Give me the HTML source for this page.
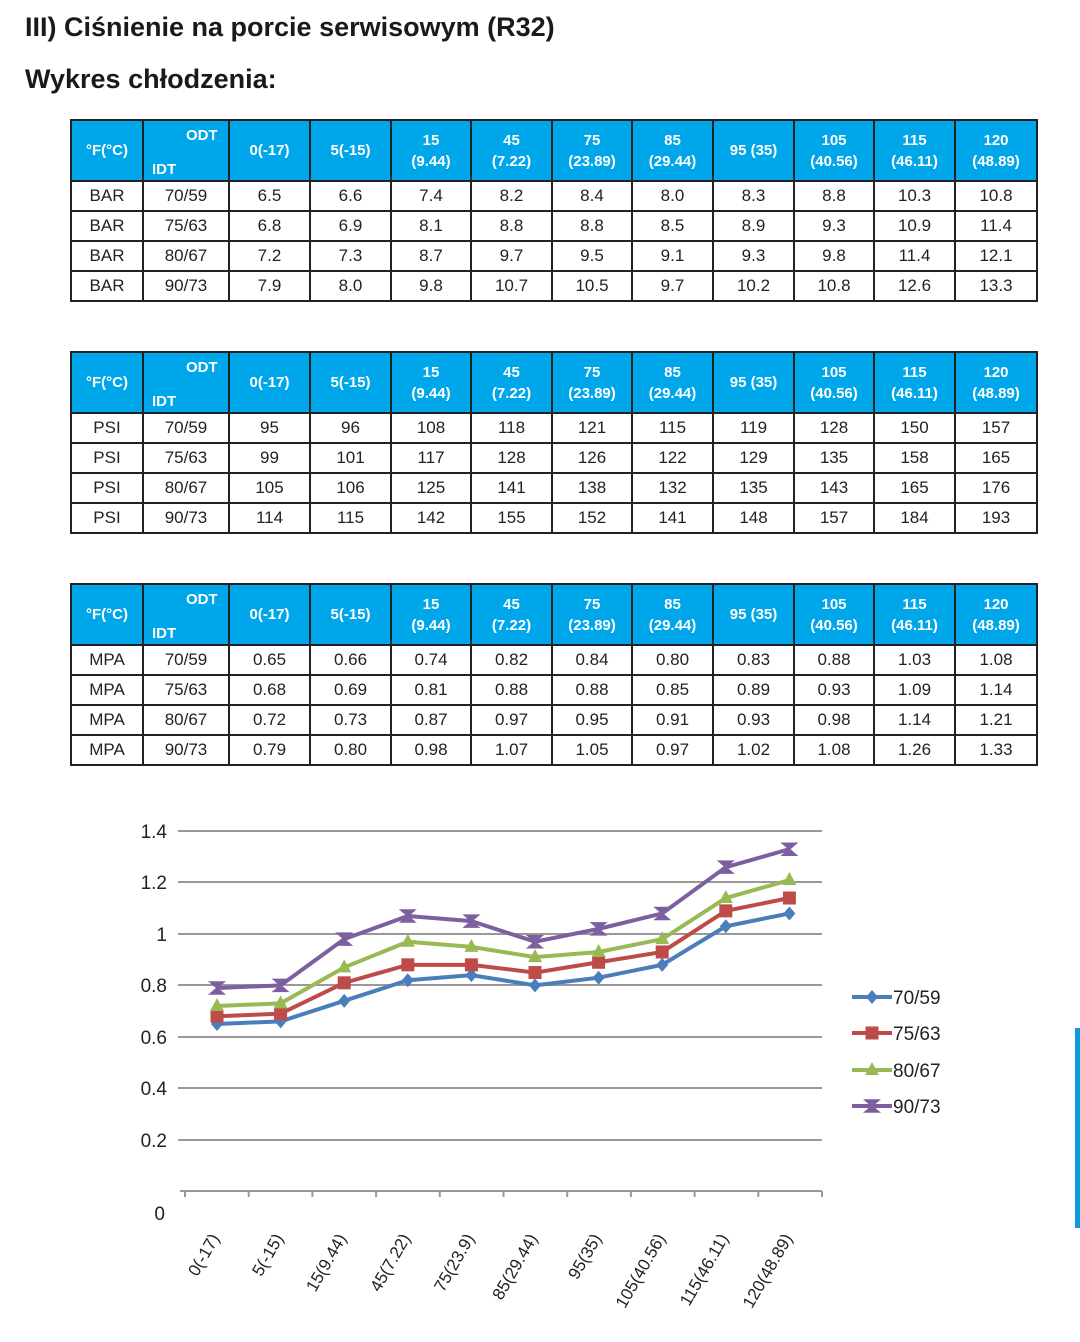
<!DOCTYPE html>
<html><head><meta charset="utf-8"><style>
body{margin:0;width:1080px;height:1342px;background:#fff;position:relative;font-family:"Liberation Sans",sans-serif;overflow:hidden}
.t1{position:absolute;left:25px;top:12px;font-size:27px;font-weight:bold;color:#1a1a1a}
.t2{position:absolute;left:25px;top:64px;font-size:27px;font-weight:bold;color:#1a1a1a}
table{position:absolute;left:70px;border-collapse:collapse;table-layout:fixed;width:966px}
td{border:2px solid #222;text-align:center;font-size:17px;color:#222;height:28px;padding:0}
tr.h td{background:#00a6ea;color:#fff;font-size:15px;font-weight:bold;height:59px;line-height:21px}
.odt{position:relative;height:59px}
.odt span{position:absolute}
#bar{position:absolute;left:1075px;top:1028px;width:5px;height:200px;background:#0a9bdc}
</style></head><body>
<div class="t1">III) Ciśnienie na porcie serwisowym (R32)</div>
<div class="t2">Wykres chłodzenia:</div>

<table style="top:119px">
<colgroup><col style="width:72px"><col style="width:86px"><col style="width:81px"><col style="width:81px"><col style="width:80px"><col style="width:81px"><col style="width:80px"><col style="width:81px"><col style="width:81px"><col style="width:80px"><col style="width:81px"><col style="width:82px"></colgroup>
<tr class="h"><td>°F(°C)</td><td><div class="odt"><span style="left:42px;top:4px">ODT</span><span style="left:8px;top:38px">IDT</span></div></td><td>0(-17)</td><td>5(-15)</td><td>15<br>(9.44)</td><td>45<br>(7.22)</td><td>75<br>(23.89)</td><td>85<br>(29.44)</td><td>95 (35)</td><td>105<br>(40.56)</td><td>115<br>(46.11)</td><td>120<br>(48.89)</td></tr>
<tr><td>BAR</td><td>70/59</td><td>6.5</td><td>6.6</td><td>7.4</td><td>8.2</td><td>8.4</td><td>8.0</td><td>8.3</td><td>8.8</td><td>10.3</td><td>10.8</td></tr>
<tr><td>BAR</td><td>75/63</td><td>6.8</td><td>6.9</td><td>8.1</td><td>8.8</td><td>8.8</td><td>8.5</td><td>8.9</td><td>9.3</td><td>10.9</td><td>11.4</td></tr>
<tr><td>BAR</td><td>80/67</td><td>7.2</td><td>7.3</td><td>8.7</td><td>9.7</td><td>9.5</td><td>9.1</td><td>9.3</td><td>9.8</td><td>11.4</td><td>12.1</td></tr>
<tr><td>BAR</td><td>90/73</td><td>7.9</td><td>8.0</td><td>9.8</td><td>10.7</td><td>10.5</td><td>9.7</td><td>10.2</td><td>10.8</td><td>12.6</td><td>13.3</td></tr>
</table>

<table style="top:351px">
<colgroup><col style="width:72px"><col style="width:86px"><col style="width:81px"><col style="width:81px"><col style="width:80px"><col style="width:81px"><col style="width:80px"><col style="width:81px"><col style="width:81px"><col style="width:80px"><col style="width:81px"><col style="width:82px"></colgroup>
<tr class="h"><td>°F(°C)</td><td><div class="odt"><span style="left:42px;top:4px">ODT</span><span style="left:8px;top:38px">IDT</span></div></td><td>0(-17)</td><td>5(-15)</td><td>15<br>(9.44)</td><td>45<br>(7.22)</td><td>75<br>(23.89)</td><td>85<br>(29.44)</td><td>95 (35)</td><td>105<br>(40.56)</td><td>115<br>(46.11)</td><td>120<br>(48.89)</td></tr>
<tr><td>PSI</td><td>70/59</td><td>95</td><td>96</td><td>108</td><td>118</td><td>121</td><td>115</td><td>119</td><td>128</td><td>150</td><td>157</td></tr>
<tr><td>PSI</td><td>75/63</td><td>99</td><td>101</td><td>117</td><td>128</td><td>126</td><td>122</td><td>129</td><td>135</td><td>158</td><td>165</td></tr>
<tr><td>PSI</td><td>80/67</td><td>105</td><td>106</td><td>125</td><td>141</td><td>138</td><td>132</td><td>135</td><td>143</td><td>165</td><td>176</td></tr>
<tr><td>PSI</td><td>90/73</td><td>114</td><td>115</td><td>142</td><td>155</td><td>152</td><td>141</td><td>148</td><td>157</td><td>184</td><td>193</td></tr>
</table>

<table style="top:583px">
<colgroup><col style="width:72px"><col style="width:86px"><col style="width:81px"><col style="width:81px"><col style="width:80px"><col style="width:81px"><col style="width:80px"><col style="width:81px"><col style="width:81px"><col style="width:80px"><col style="width:81px"><col style="width:82px"></colgroup>
<tr class="h"><td>°F(°C)</td><td><div class="odt"><span style="left:42px;top:4px">ODT</span><span style="left:8px;top:38px">IDT</span></div></td><td>0(-17)</td><td>5(-15)</td><td>15<br>(9.44)</td><td>45<br>(7.22)</td><td>75<br>(23.89)</td><td>85<br>(29.44)</td><td>95 (35)</td><td>105<br>(40.56)</td><td>115<br>(46.11)</td><td>120<br>(48.89)</td></tr>
<tr><td>MPA</td><td>70/59</td><td>0.65</td><td>0.66</td><td>0.74</td><td>0.82</td><td>0.84</td><td>0.80</td><td>0.83</td><td>0.88</td><td>1.03</td><td>1.08</td></tr>
<tr><td>MPA</td><td>75/63</td><td>0.68</td><td>0.69</td><td>0.81</td><td>0.88</td><td>0.88</td><td>0.85</td><td>0.89</td><td>0.93</td><td>1.09</td><td>1.14</td></tr>
<tr><td>MPA</td><td>80/67</td><td>0.72</td><td>0.73</td><td>0.87</td><td>0.97</td><td>0.95</td><td>0.91</td><td>0.93</td><td>0.98</td><td>1.14</td><td>1.21</td></tr>
<tr><td>MPA</td><td>90/73</td><td>0.79</td><td>0.80</td><td>0.98</td><td>1.07</td><td>1.05</td><td>0.97</td><td>1.02</td><td>1.08</td><td>1.26</td><td>1.33</td></tr>
</table>

<svg id="ch" width="1080" height="1342" style="position:absolute;left:0;top:0" font-family="Liberation Sans, sans-serif">
<g stroke="#999" stroke-width="2">
<line x1="178" x2="822" y1="831" y2="831"/><line x1="178" x2="822" y1="882" y2="882"/><line x1="178" x2="822" y1="934" y2="934"/><line x1="178" x2="822" y1="985" y2="985"/><line x1="178" x2="822" y1="1037" y2="1037"/><line x1="178" x2="822" y1="1088" y2="1088"/><line x1="178" x2="822" y1="1140" y2="1140"/>
<line x1="180" x2="822" y1="1191" y2="1191"/>
</g>
<g font-size="19" fill="#222" text-anchor="end">
<text x="167" y="838">1.4</text><text x="167" y="889">1.2</text><text x="167" y="941">1</text><text x="167" y="992">0.8</text><text x="167" y="1044">0.6</text><text x="167" y="1095">0.4</text><text x="167" y="1147">0.2</text><text x="165" y="1220">0</text>
</g>
<g id="ticks" stroke="#999" stroke-width="2"></g>
<g font-size="17" fill="#222" text-anchor="end">
<text transform="translate(220,1238) rotate(-60)">0(-17)</text>
<text transform="translate(284,1238) rotate(-60)">5(-15)</text>
<text transform="translate(347,1238) rotate(-60)">15(9.44)</text>
<text transform="translate(411,1238) rotate(-60)">45(7.22)</text>
<text transform="translate(475,1238) rotate(-60)">75(23.9)</text>
<text transform="translate(538,1238) rotate(-60)">85(29.44)</text>
<text transform="translate(602,1238) rotate(-60)">95(35)</text>
<text transform="translate(666,1238) rotate(-60)">105(40.56)</text>
<text transform="translate(729,1238) rotate(-60)">115(46.11)</text>
<text transform="translate(793,1238) rotate(-60)">120(48.89)</text>
</g>
<g id="series"></g>
<g font-size="19" fill="#222">
<text x="893" y="1004">70/59</text><text x="893" y="1040">75/63</text><text x="893" y="1077">80/67</text><text x="893" y="1113">90/73</text>
</g>
<g id="leg"></g>
</svg>
<div id="bar"></div>
<script>
var D=[[.65,.66,.74,.82,.84,.80,.83,.88,1.03,1.08],[.68,.69,.81,.88,.88,.85,.89,.93,1.09,1.14],[.72,.73,.87,.97,.95,.91,.93,.98,1.14,1.21],[.79,.80,.98,1.07,1.05,.97,1.02,1.08,1.26,1.33]];
var C=["#4a7ebb","#be4b48","#98b954","#7d5fa0"];
function mk(t,x,y,c){
 if(t==0)return '<polygon points="'+x+','+(y-7)+' '+(x+6)+','+y+' '+x+','+(y+7)+' '+(x-6)+','+y+'" fill="'+c+'"/>';
 if(t==1)return '<rect x="'+(x-6.5)+'" y="'+(y-6.5)+'" width="13" height="13" fill="'+c+'"/>';
 if(t==2)return '<polygon points="'+x+','+(y-8)+' '+(x+7)+','+(y+5)+' '+(x-7)+','+(y+5)+'" fill="'+c+'"/>';
 return '<polygon points="'+(x-7)+','+(y-6)+' '+(x+7)+','+(y-6)+' '+x+','+y+' '+(x+7)+','+(y+6)+' '+(x-7)+','+(y+6)+' '+x+','+y+'" fill="'+c+'" stroke="'+c+'" stroke-width="1.5"/>';
}
var s='';
for(var k=0;k<4;k++){var p=[],m='';for(var i=0;i<10;i++){var x=217+63.6*i,y=1191-257*D[k][i];p.push(x+','+y);m+=mk(k,x,y,C[k]);}
 s+='<polyline points="'+p.join(' ')+'" fill="none" stroke="'+C[k]+'" stroke-width="4"/>'+m;}
document.getElementById('series').innerHTML=s;
var t='';for(var i=0;i<11;i++){var x=185+63.7*i;t+='<line x1="'+x+'" x2="'+x+'" y1="1191" y2="1197"/>';}
document.getElementById('ticks').innerHTML=t;
var l='',ly=[997,1033,1070,1106];for(var k=0;k<4;k++){l+='<line x1="852" x2="892" y1="'+ly[k]+'" y2="'+ly[k]+'" stroke="'+C[k]+'" stroke-width="4"/>'+mk(k,872,ly[k],C[k]);}
document.getElementById('leg').innerHTML=l;
</script>
</body></html>
